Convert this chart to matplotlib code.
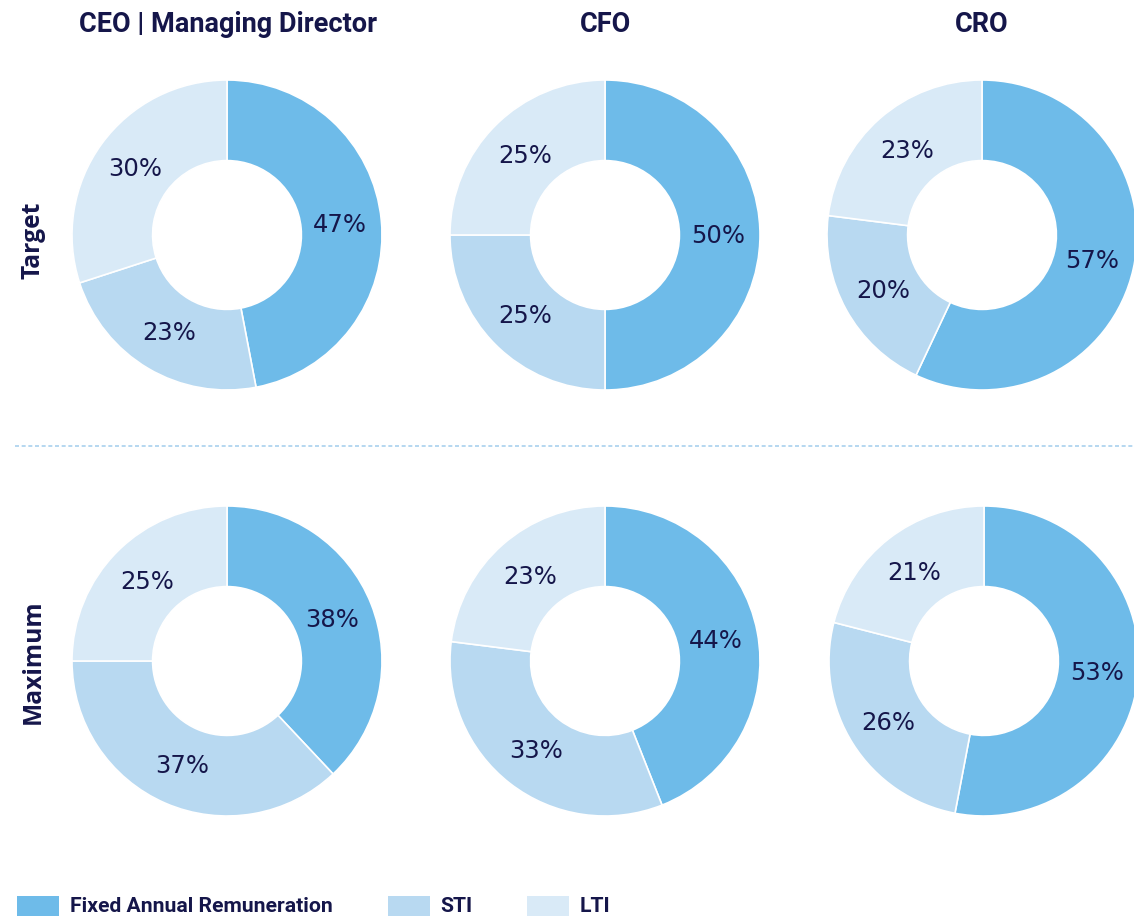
import matplotlib
matplotlib.use("Agg")
import matplotlib.pyplot as plt
from matplotlib.patches import Rectangle
from matplotlib.lines import Line2D

W, H = 1134, 920
DPI = 100

roles = ["CEO | Managing Director", "CFO", "CRO"]
rows = ["Target", "Maximum"]
components = ["Fixed Annual Remuneration", "STI", "LTI"]

target_fixed = [47, 50, 57]
target_sti = [23, 25, 20]
target_lti = [30, 25, 23]
maximum_fixed = [38, 44, 53]
maximum_sti = [37, 33, 26]
maximum_lti = [25, 23, 21]

colors = ["#6ebbe9", "#b8d9f1", "#d9eaf7"]
navy = "#15164a"

fig = plt.figure(figsize=(W / DPI, H / DPI), dpi=DPI)

centers_x = [[227, 605, 982], [227, 605, 984]]
centers_y = [236, 662]
R = 155

data = [
    [target_fixed, target_sti, target_lti],
    [maximum_fixed, maximum_sti, maximum_lti],
]

for ri in range(2):
    for ci in range(3):
        cx, cy = centers_x[ri][ci], centers_y[ri]
        ax = fig.add_axes([(cx - R) / W, 1 - (cy + R) / H, 2 * R / W, 2 * R / H])
        vals = [data[ri][k][ci] for k in range(3)]
        wedges, texts, autotexts = ax.pie(
            vals, colors=colors, startangle=90, counterclock=False,
            radius=1, autopct=lambda p: f"{round(p)}%", pctdistance=0.73,
            wedgeprops=dict(width=0.52, edgecolor="white", linewidth=1.2),
            textprops=dict(color=navy, fontsize=17.5, family=["DejaVu Sans"]),
        )
        ax.set_xlim(-1, 1)
        ax.set_ylim(-1, 1)
        ax.set_aspect("equal")
        ax.axis("off")

# titles
title_x = [228, 605, 982]
for x, t in zip(title_x, roles):
    fig.text(x / W, 1 - 24 / H, t, ha="center", va="center", fontsize=19.5,
             fontweight="bold", color=navy,
             family=["Roboto", "DejaVu Sans"])

# row labels
for y, t in zip([240, 662], rows):
    fig.text(33 / W, 1 - y / H, t, ha="center", va="center", rotation=90,
             fontsize=17.7, fontweight="bold", color=navy,
             family=["Open Sans", "DejaVu Sans"])

# separator
fig.add_artist(Line2D([15 / W, 1.0], [1 - 447 / H, 1 - 447 / H],
                      transform=fig.transFigure, color="#a9d1ee",
                      linewidth=1.2, linestyle=(0, (2.4, 1.6))))

# legend
leg_y = 907
patch_x = [17, 388, 527]
text_x = [70, 440, 580]
for px, tx, col, lab in zip(patch_x, text_x, colors, components):
    fig.add_artist(Rectangle((px / W, 1 - (leg_y + 10) / H), 42 / W, 20 / H,
                             transform=fig.transFigure, facecolor=col,
                             edgecolor="none"))
    fig.text(tx / W, 1 - leg_y / H, lab, ha="left", va="center", fontsize=15.2,
             fontweight="bold", color=navy,
             family=["Roboto", "DejaVu Sans"])

fig.savefig("out.png", dpi=DPI, facecolor="white")
